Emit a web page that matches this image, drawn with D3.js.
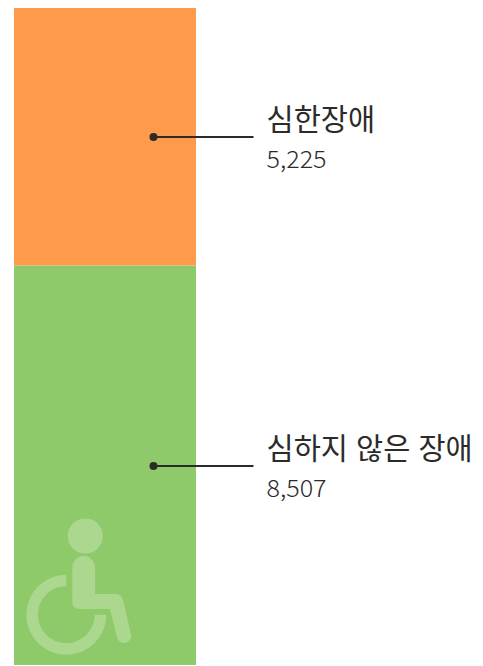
<!DOCTYPE html>
<html>
<head>
<meta charset="utf-8">
<script src="https://cdn.jsdelivr.net/npm/d3@7"></script>
<style>
html, body { margin: 0; padding: 0; background: #fff; }
svg { display: block; }
text { font-family: "Noto Sans CJK KR", sans-serif; fill: #2b2b2b; }
</style>
</head>
<body>
<script>
var categories = ["심하지 않은 장애", "심한장애"];
var values = [8507, 5225];
var colors = ["#8fca6a", "#fe9a4a"];

var width = 483, height = 666;
var svg = d3.select("body").append("svg").attr("width", width).attr("height", height);

// stack bottom up
var stackEnds = d3.cumsum(values);
// the picture's split is not quite proportional, so pin it with a piecewise scale
var y = d3.scaleLinear().domain([0, stackEnds[0], stackEnds[1]]).range([665, 265.5, 8]);
var x = d3.scaleBand().domain(["all"]).range([14, 196]);

var rows = categories.map(function(name, i){
	return {name: name, value: values[i], color: colors[i], start: stackEnds[i] - values[i], end: stackEnds[i]};
});

svg.selectAll("rect.bar").data(rows).enter().append("rect")
	.attr("class", "bar")
	.attr("x", x("all"))
	.attr("width", x.bandwidth())
	.attr("y", function(d){ return y(d.end); })
	.attr("height", function(d){ return y(d.start) - y(d.end); })
	.attr("fill", function(d){ return d.color; });

// labels hang off a leader from the middle of each segment
var lead = svg.selectAll("g.lead").data(rows).enter().append("g")
	.attr("class", "lead")
	.attr("transform", function(d){ return "translate(153.5," + (Math.floor((y(d.start) + y(d.end)) / 2) + 1) + ")"; });

lead.append("circle").attr("r", 4).attr("fill", "#2b2b2b");
lead.append("line").attr("x1", 0).attr("x2", 100).attr("y1", 0).attr("y2", 0)
	.attr("stroke", "#2b2b2b").attr("stroke-width", 2);
lead.append("text").attr("x", 113).attr("y", -7)
	.attr("font-size", 29.5).attr("font-weight", 400).attr("word-spacing", 1.5)
	.text(function(d){ return d.name; });
lead.append("text").attr("x", 113).attr("y", 31)
	.attr("font-size", 24).attr("font-weight", 300)
	.attr("textLength", 60).attr("lengthAdjust", "spacingAndGlyphs")
	.text(function(d){ return d3.format(",")(d.value); });

// wheelchair symbol
var icon = svg.append("g").attr("fill", "#fff").attr("fill-opacity", 0.25);
icon.append("circle").attr("cx", 85.3).attr("cy", 536).attr("r", 17.6);
icon.append("path").attr("transform", "translate(66.3,614.7)")
	.attr("d", d3.arc().innerRadius(28.5).outerRadius(40)
		.startAngle(Math.PI / 2).endAngle(Math.PI * 2)());
icon.append("path").attr("d",
	"M72.300 567.500a11.400 11.400 0 0 1 22.800 0V594H116Q121.500 594 123 600L131 634" +
	"a7.200 7.200 0 0 1 -14 3.500L110 609H80Q72.300 609 72.300 601Z");
</script>
</body>
</html>
